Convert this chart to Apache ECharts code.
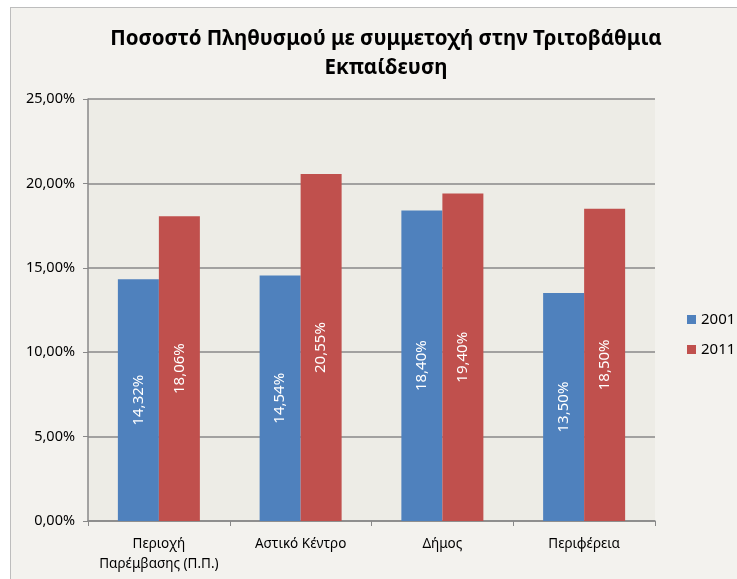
<!DOCTYPE html>
<html>
<head>
<meta charset="utf-8">
<script src="https://cdn.jsdelivr.net/npm/echarts@6/dist/echarts.min.js"></script>
<style>
  html, body { margin: 0; padding: 0; background: #fff; }
  #frame {
    position: absolute; left: 10px; top: 7px; width: 740px; height: 590px;
    border: 1px solid #bdbdbd; background: #f3f2ee;
  }
  #chart { position: absolute; left: 0; top: 0; width: 737px; height: 579px; }
</style>
</head>
<body>
<div id="frame"></div>
<div id="chart"></div>
<script>
// δεδομένα
const categories = ['Περιοχή\nΠαρέμβασης (Π.Π.)', 'Αστικό Κέντρο', 'Δήμος', 'Περιφέρεια'];
const years = ['2001', '2011'];
const values2001 = [14.32, 14.54, 18.40, 13.50];
const values2011 = [18.06, 20.55, 19.40, 18.50];
const yTicks = [0, 5, 10, 15, 20, 25];

const fmt = (v) => v.toFixed(2).replace('.', ',') + '%';
const font = '"Noto Sans", sans-serif';

const chart = echarts.init(document.getElementById('chart'));

const labelOpt = {
  show: true,
  position: 'inside',
  rotate: 90,
  color: '#fff',
  fontSize: 15,
  fontFamily: font,
  formatter: (p) => fmt(p.value),
};

chart.setOption({
  animation: false,
  title: {
    text: 'Ποσοστό Πληθυσμού με συμμετοχή στην Τριτοβάθμια\nΕκπαίδευση',
    left: 381,
    textAlign: 'center',
    top: 20,
    textStyle: { fontSize: 20.5, fontWeight: 'bold', color: '#000', fontFamily: font, lineHeight: 29 },
  },
  legend: {
    data: years,
    orient: 'vertical',
    left: 682,
    top: 307,
    itemWidth: 9,
    itemHeight: 9,
    itemGap: 15,
    icon: 'rect',
    textStyle: { fontSize: 15, color: '#000', fontFamily: font },
  },
  grid: { left: 88, right: 82, top: 99, bottom: 58, show: true, backgroundColor: '#edece6', borderWidth: 0 },
  xAxis: {
    type: 'category',
    data: categories,
    axisLine: { lineStyle: { color: '#888', width: 1.5 } },
    axisTick: { show: true, length: 5, lineStyle: { color: '#888' } },
    axisLabel: { color: '#000', fontSize: 13.5, fontFamily: font, lineHeight: 20, margin: 13, interval: 0 },
  },
  yAxis: {
    type: 'value',
    min: yTicks[0],
    max: yTicks[yTicks.length - 1],
    interval: 5,
    axisLine: { show: true, lineStyle: { color: '#888', width: 1.5 } },
    axisTick: { show: true, length: 5, lineStyle: { color: '#888' } },
    splitLine: { lineStyle: { color: '#888', width: 1.5 } },
    axisLabel: { color: '#000', fontSize: 14.5, fontFamily: font, margin: 13, formatter: (v) => fmt(v) },
  },
  series: [
    {
      name: years[0],
      type: 'bar',
      data: values2001,
      barGap: '0%',
      barWidth: 41,
      itemStyle: { color: '#4f81bd' },
      label: labelOpt,
    },
    {
      name: years[1],
      type: 'bar',
      data: values2011,
      barWidth: 41,
      itemStyle: { color: '#c0504d' },
      label: labelOpt,
    },
  ],
});
</script>
</body>
</html>
